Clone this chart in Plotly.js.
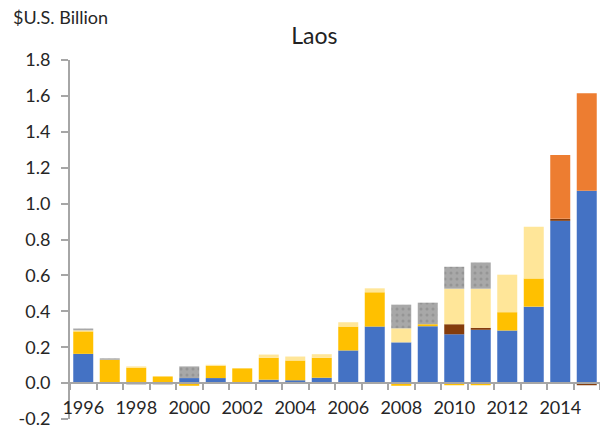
<!DOCTYPE html>
<html>
<head>
<meta charset="utf-8">
<script src="https://cdn.plot.ly/plotly-3.0.1.min.js"></script>
<style>html,body{margin:0;padding:0;background:#fff;}#chart{width:600px;height:431px;}</style>
</head>
<body>
<div id="chart"></div>
<script>
const years = [1996,1997,1998,1999,2000,2001,2002,2003,2004,2005,2006,2007,2008,2009,2010,2011,2012,2013,2014,2015];
const seriesBlue      = [0.163,0,0,0,0.028,0.028,0,0.019,0.016,0.030,0.182,0.315,0.227,0.317,0.272,0.297,0.293,0.426,0.904,1.071];
const seriesBrown     = [0,0,0,0,0,0,0,0,0,0,0,0,0,0,0.056,0.011,0,0,0.011,-0.012];
const seriesGold      = [0.125,0.130,0.086,0.037,-0.015,0.069,0.082,0.122,0.110,0.111,0.133,0.191,-0.015,0.011,-0.012,-0.012,0.102,0.157,0,0];
const seriesLightGold = [0.006,-0.005,0.007,0,0,0.005,-0.005,0.018,0.022,0.020,0.024,0.022,0.078,-0.005,0.198,0.218,0.209,0.288,0,0];
const seriesGray      = [0.010,0.008,-0.008,-0.008,0.065,0,0,0,0,0,0,0,0.132,0.120,0.122,0.146,0,0,0,0];
const seriesOrange    = [0,0,0,0,0,0,0,0,0,0,0,0,0,0,0,0,0,0,0.356,0.544];
const yTicks = [-0.2,0,0.2,0.4,0.6,0.8,1.0,1.2,1.4,1.6,1.8];
const xLabels = [1996,1998,2000,2002,2004,2006,2008,2010,2012,2014];

const FONT = 'Lato, sans-serif';
const mk = (name, y, color, extra) => Object.assign({
  type:'bar', name:name, x:years, y:y,
  marker:{color:color, line:{width:0}},
  hoverinfo:'x+y+name'
}, extra||{});

const traces = [
  mk('Series 1', seriesBlue, '#4472c4'),
  mk('Series 2', seriesBrown, '#843c0c'),
  mk('Series 3', seriesGold, '#ffc000'),
  mk('Series 4', seriesLightGold, '#ffe699'),
  mk('Series 5', seriesGray, '#a6a6a6', {marker:{color:'#a6a6a6', line:{width:0},
      pattern:{shape:'.', bgcolor:'#a8a8a8', fgcolor:'#959595', size:6, solidity:0.2}}}),
  mk('Series 6', seriesOrange, '#ed7d31')
];

const layout = {
  width:600, height:431,
  margin:{l:70, r:0, t:60, b:12},
  paper_bgcolor:'#fff', plot_bgcolor:'#fff',
  barmode:'relative', bargap:0.245,
  showlegend:false,
  font:{family:FONT, size:18, color:'#262626'},
  title:{text:'Laos', x:0.524, xanchor:'center', y:0.916, yanchor:'middle', font:{family:FONT, size:23, color:'#222'}},
  xaxis:{
    type:'linear', range:[1995.5, 2015.5],
    anchor:'free', position:0.1,
    tickmode:'array', tickvals:xLabels, ticktext:xLabels.map(String),
    ticks:'', ticklabelstandoff:8,
    tickfont:{family:FONT, size:18, color:'#262626'},
    showline:true, linecolor:'#a6a6a6', linewidth:2,
    showgrid:false, zeroline:false,
    minor:{tickmode:'linear', tick0:1995.5, dtick:1, ticks:'outside', ticklen:6, tickwidth:2, tickcolor:'#a6a6a6', showgrid:false}
  },
  yaxis:{
    range:[-0.2, 1.8], tickmode:'array', tickvals:yTicks,
    ticktext:yTicks.map(v => v.toFixed(1)),
    ticks:'outside', ticklen:7, tickwidth:2, tickcolor:'#a6a6a6',
    ticklabelstandoff:7,
    tickfont:{family:FONT, size:18, color:'#262626'},
    showline:true, linecolor:'#a6a6a6', linewidth:2,
    showgrid:false, zeroline:false
  },
  annotations:[{
    text:'$U.S. Billion', xref:'paper', yref:'paper', x:-0.111, y:1.12,
    xanchor:'left', yanchor:'middle', showarrow:false,
    font:{family:FONT, size:18, color:'#262626'}
  }]
};

Plotly.newPlot('chart', traces, layout, {staticPlot:true, displayModeBar:false});
</script>
</body>
</html>
